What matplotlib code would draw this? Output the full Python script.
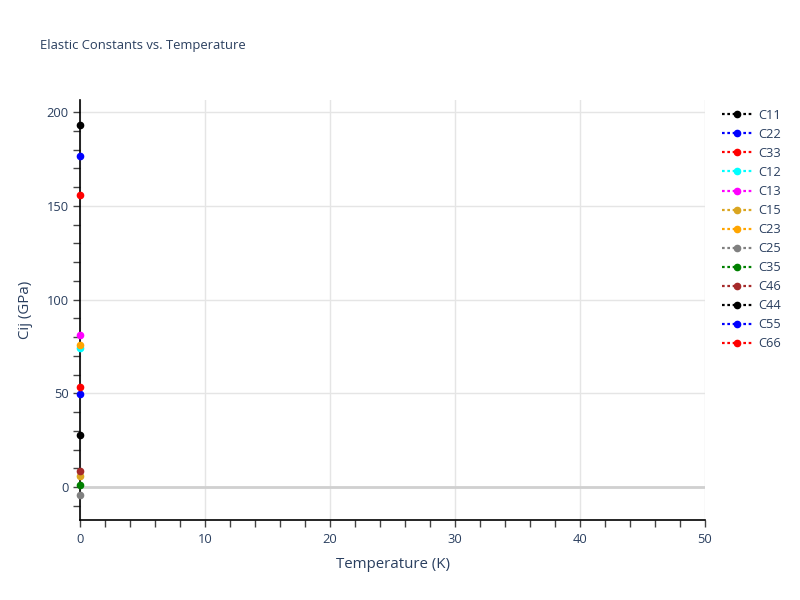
import matplotlib
matplotlib.use("Agg")
import matplotlib.pyplot as plt
from matplotlib.ticker import MultipleLocator

labels = ["C11", "C22", "C33", "C12", "C13", "C15", "C23", "C25", "C35", "C46", "C44", "C55", "C66"]
colors = ["black", "blue", "red", "cyan", "magenta", "goldenrod", "orange", "gray", "green", "brown", "black", "blue", "red"]
temperature = [0.0]
values = [193.3, 176.5, 156.0, 74.0, 81.0, 6.0, 76.0, -4.2, 1.0, 8.5, 27.7, 49.4, 53.3]

TXT = "#2a3f5f"
plt.rcParams["font.family"] = ["Open Sans", "DejaVu Sans"]

fig = plt.figure(figsize=(8, 6), dpi=100)
ax = fig.add_axes([0.1, 0.1333, 0.78125, 0.70])

for lab, col, v in zip(labels, colors, values):
    ax.plot(temperature, [v], linestyle=(0, (1.2, 1.2)), linewidth=1.6, color=col, marker="o",
            markersize=4.5, label=lab, clip_on=False, zorder=5)

ax.set_xlim(0, 50)
ax.set_ylim(-17.6, 206.4)
ax.xaxis.set_major_locator(MultipleLocator(10))
ax.xaxis.set_minor_locator(MultipleLocator(2))
ax.yaxis.set_major_locator(MultipleLocator(50))
ax.yaxis.set_minor_locator(MultipleLocator(10))
ax.grid(True, which="major", color="#e5e5e5", linewidth=1)
ax.axhline(0, color="#d0d0d0", linewidth=2, zorder=1)
ax.set_axisbelow(True)

for s in ["top", "right"]:
    ax.spines[s].set_visible(False)
for s in ["left", "bottom"]:
    ax.spines[s].set_color("black")
    ax.spines[s].set_linewidth(1.2)

ax.tick_params(which="both", direction="out", color="#444444", labelcolor=TXT, labelsize=9.3)
ax.tick_params(which="major", length=5, width=1)
ax.tick_params(which="minor", length=5, width=1)
ax.tick_params(axis="x", which="major", pad=4)
ax.tick_params(axis="y", which="major", pad=3)

ax.set_xlabel("Temperature (K)", color=TXT, fontsize=10.8, labelpad=8)
ax.set_ylabel("Cij (GPa)", color=TXT, fontsize=10.8, labelpad=10)
fig.text(0.05, 1 - 46 / 600, "Elastic Constants vs. Temperature", color=TXT, fontsize=9.4,
         va="center", ha="left")

leg = fig.legend(loc="upper left", bbox_to_anchor=(0.902, 1 - 109 / 600), frameon=False,
                 fontsize=9.3, handlelength=2.4, handletextpad=0.45, labelspacing=0.465,
                 borderaxespad=0, borderpad=0)
for t in leg.get_texts():
    t.set_color(TXT)

fig.savefig("out.png", dpi=100)
